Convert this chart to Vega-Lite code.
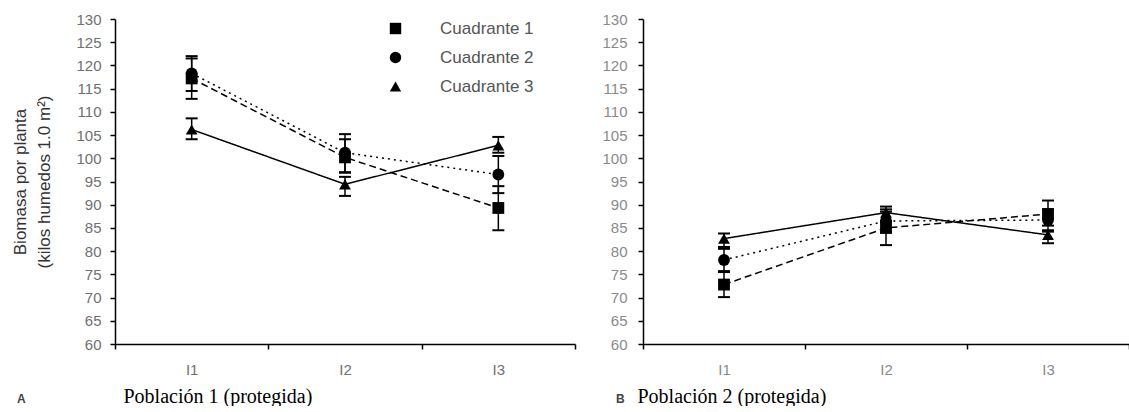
{
  "$schema": "https://vega.github.io/schema/vega-lite/v6.json",
  "background": "white",
  "padding": {"left": 11, "top": 12, "right": 0, "bottom": 0},
  "spacing": 25,
  "datasets": {
    "a": [
      {"series": "Cuadrante 1", "interval": "I1", "value": 117.2, "lo": 112.8, "hi": 121.5},
      {"series": "Cuadrante 1", "interval": "I2", "value": 100.2, "lo": 96.9, "hi": 104.1},
      {"series": "Cuadrante 1", "interval": "I3", "value": 89.3, "lo": 84.5, "hi": 94.0},
      {"series": "Cuadrante 2", "interval": "I1", "value": 118.3, "lo": 114.5, "hi": 122.0},
      {"series": "Cuadrante 2", "interval": "I2", "value": 101.2, "lo": 97.0, "hi": 105.2},
      {"series": "Cuadrante 2", "interval": "I3", "value": 96.5, "lo": 92.5, "hi": 100.5},
      {"series": "Cuadrante 3", "interval": "I1", "value": 106.2, "lo": 104.1, "hi": 108.6},
      {"series": "Cuadrante 3", "interval": "I2", "value": 94.4, "lo": 91.9, "hi": 96.0},
      {"series": "Cuadrante 3", "interval": "I3", "value": 102.8, "lo": 101.2, "hi": 104.6}
    ],
    "b": [
      {"series": "Cuadrante 1", "interval": "I1", "value": 72.8, "lo": 70.1, "hi": 75.5},
      {"series": "Cuadrante 1", "interval": "I2", "value": 85.0, "lo": 81.3, "hi": 88.5},
      {"series": "Cuadrante 1", "interval": "I3", "value": 88.0, "lo": 85.5, "hi": 90.9},
      {"series": "Cuadrante 2", "interval": "I1", "value": 78.1, "lo": 75.7, "hi": 80.5},
      {"series": "Cuadrante 2", "interval": "I2", "value": 86.5, "lo": 84.0, "hi": 89.0},
      {"series": "Cuadrante 2", "interval": "I3", "value": 86.7, "lo": 84.2, "hi": 89.0},
      {"series": "Cuadrante 3", "interval": "I1", "value": 82.7, "lo": 80.9, "hi": 83.8},
      {"series": "Cuadrante 3", "interval": "I2", "value": 88.3, "lo": 86.5, "hi": 89.6},
      {"series": "Cuadrante 3", "interval": "I3", "value": 83.5, "lo": 81.7, "hi": 84.5}
    ]
  },
  "config": {
    "view": {"stroke": null},
    "axis": {
      "grid": false,
      "domainColor": "black",
      "domainWidth": 1.5,
      "tickColor": "black",
      "tickWidth": 1.5,
      "tickSize": 5,
      "labelColor": "#707070",
      "labelFont": "Liberation Sans",
      "labelFontSize": 15
    },
    "legend": {
      "title": null, "orient": "none", "legendX": 272, "legendY": 1,
      "labelFont": "Liberation Sans", "labelFontSize": 17, "labelColor": "#555555",
      "symbolSize": 130, "symbolFillColor": "black", "symbolStrokeColor": "black", "symbolStrokeWidth": 0,
      "rowPadding": 11, "labelOffset": 36
    },
    "title": {"font": "Liberation Sans", "fontSize": 12, "fontWeight": "bold", "color": "#444444"}
  },
  "resolve": {"scale": {"shape": "independent", "strokeDash": "independent"}, "legend": {"shape": "independent", "strokeDash": "independent"}},
  "hconcat": [
    {
      "width": 460,
      "height": 325,
      "data": {"name": "a"},
      "title": {"text": "A", "orient": "bottom", "anchor": "start", "frame": "bounds", "dx": 5, "dy": -16},
      "encoding": {
        "x": {
          "field": "interval", "type": "nominal", "sort": ["I1", "I2", "I3"],
          "scale": {"paddingInner": 0, "paddingOuter": 0},
          "axis": {
            "labelAngle": 0, "tickBand": "extent", "labelPadding": 13,
            "title": "Población 1 (protegida)", "titleFont": "Liberation Serif", "titleFontSize": 20,
            "titleFontWeight": "normal", "titleColor": "black", "titleAlign": "left", "titleAnchor": "start",
            "titleX": 8, "titleY": 58, "titleBaseline": "alphabetic"
          }
        },
        "y": {
          "field": "value", "type": "quantitative",
          "scale": {"domain": [60, 130], "nice": false, "zero": false},
          "axis": {
            "values": [60, 65, 70, 75, 80, 85, 90, 95, 100, 105, 110, 115, 120, 125, 130],
            "labelPadding": 9,
            "title": ["Biomasa por planta", "(kilos humedos 1.0 m²)"],
            "titleFont": "Liberation Sans", "titleFontSize": 17, "titleFontWeight": "normal",
            "titleColor": "#333333", "titleLineHeight": 24, "titlePadding": 22
          }
        }
      },
      "layer": [
        {
          "mark": {"type": "line", "color": "black", "strokeWidth": 1.5},
          "encoding": {
            "detail": {"field": "series"},
            "strokeDash": {"field": "series", "type": "nominal",
              "scale": {"domain": ["Cuadrante 1", "Cuadrante 2", "Cuadrante 3"], "range": [[7, 4], [2, 4], [1, 0]]},
              "legend": {"title": null}}
          }
        },
        {
          "mark": {"type": "rule", "color": "black", "strokeWidth": 1.5},
          "encoding": {"y": {"field": "lo", "type": "quantitative"}, "y2": {"field": "hi"}}
        },
        {
          "mark": {"type": "tick", "color": "black", "thickness": 2, "size": 12, "opacity": 1},
          "encoding": {"y": {"field": "lo", "type": "quantitative"}}
        },
        {
          "mark": {"type": "tick", "color": "black", "thickness": 2, "size": 12, "opacity": 1},
          "encoding": {"y": {"field": "hi", "type": "quantitative"}}
        },
        {
          "mark": {"type": "point", "filled": true, "color": "black", "opacity": 1, "size": 140},
          "encoding": {
            "shape": {"field": "series", "type": "nominal",
              "scale": {"domain": ["Cuadrante 1", "Cuadrante 2", "Cuadrante 3"], "range": ["square", "circle", "triangle-up"]},
              "legend": {"title": null}
            }
          }
        }
      ]
    },
    {
      "width": 486,
      "height": 325,
      "data": {"name": "b"},
      "title": {"text": "B", "orient": "bottom", "anchor": "start", "frame": "bounds", "dx": 14, "dy": -16},
      "encoding": {
        "x": {
          "field": "interval", "type": "nominal", "sort": ["I1", "I2", "I3"],
          "scale": {"paddingInner": 0, "paddingOuter": 0},
          "axis": {
            "labelAngle": 0, "tickBand": "extent", "labelPadding": 13, "labelColor": "#8a8a8a",
            "title": "Población 2 (protegida)", "titleFont": "Liberation Serif", "titleFontSize": 20,
            "titleFontWeight": "normal", "titleColor": "black", "titleAlign": "left", "titleAnchor": "start",
            "titleX": -6, "titleY": 58, "titleBaseline": "alphabetic"
          }
        },
        "y": {
          "field": "value", "type": "quantitative",
          "scale": {"domain": [60, 130], "nice": false, "zero": false},
          "axis": {
            "values": [60, 65, 70, 75, 80, 85, 90, 95, 100, 105, 110, 115, 120, 125, 130],
            "labelPadding": 11,
            "title": null, "labelColor": "#8a8a8a"
          }
        }
      },
      "layer": [
        {
          "mark": {"type": "line", "color": "black", "strokeWidth": 1.5},
          "encoding": {
            "detail": {"field": "series"},
            "strokeDash": {"field": "series", "type": "nominal",
              "scale": {"domain": ["Cuadrante 1", "Cuadrante 2", "Cuadrante 3"], "range": [[7, 4], [2, 4], [1, 0]]},
              "legend": null}
          }
        },
        {
          "mark": {"type": "rule", "color": "black", "strokeWidth": 1.5},
          "encoding": {"y": {"field": "lo", "type": "quantitative"}, "y2": {"field": "hi"}}
        },
        {
          "mark": {"type": "tick", "color": "black", "thickness": 2, "size": 12, "opacity": 1},
          "encoding": {"y": {"field": "lo", "type": "quantitative"}}
        },
        {
          "mark": {"type": "tick", "color": "black", "thickness": 2, "size": 12, "opacity": 1},
          "encoding": {"y": {"field": "hi", "type": "quantitative"}}
        },
        {
          "mark": {"type": "point", "filled": true, "color": "black", "opacity": 1, "size": 140},
          "encoding": {
            "shape": {"field": "series", "type": "nominal",
              "scale": {"domain": ["Cuadrante 1", "Cuadrante 2", "Cuadrante 3"], "range": ["square", "circle", "triangle-up"]},
              "legend": null
            }
          }
        }
      ]
    }
  ]
}
